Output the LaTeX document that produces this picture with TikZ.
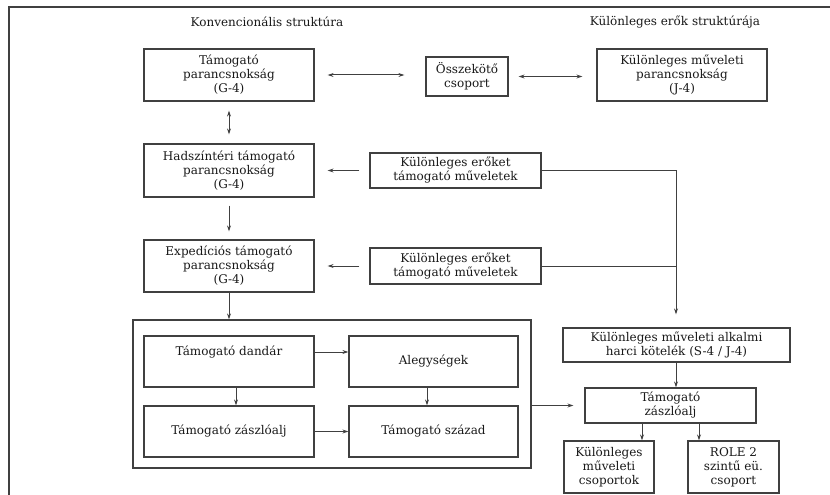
\documentclass[tikz,border=0pt]{standalone}
\usepackage{fontspec}
\setmainfont{DejaVu Serif}
\usetikzlibrary{arrows.meta}
\definecolor{ln}{HTML}{404040}
\tikzset{
  bx/.style={draw=ln, line width=1.2pt, align=center, inner sep=0pt, font=\fontsize{12}{14}\selectfont, text=black!90},
  tx/.style={align=center, inner sep=0pt, font=\fontsize{12}{14}\selectfont, text=black!90},
  arr/.style={draw=ln, line width=1pt, -{Stealth[length=6pt,width=4pt]}},
  darr/.style={draw=ln, line width=1pt, {Stealth[length=6pt,width=4pt]}-{Stealth[length=6pt,width=4pt]}},
  ln/.style={draw=ln, line width=1pt}
}
\begin{document}
\begin{tikzpicture}[x=1pt,y=-1pt]
\useasboundingbox (0,0) rectangle (830,495);
\fill[white] (0,0) rectangle (830,495);
% frame
\draw[ln, line width=1.6pt] (9,495) -- (9,7) -- (830,7);
% titles
\node[tx] (t1) at (267,22) {Konvencionális struktúra};
\node[tx] (t2) at (675,22) {Különleges erők struktúrája};
% boxes
\node[bx, minimum width=170pt, minimum height=52pt] (b1) at (229,75) {Támogató\\parancsnokság\\(G-4)};
\node[bx, minimum width=82pt, minimum height=39pt] (oss) at (467,76.5) {Összekötő\\csoport};
\node[bx, minimum width=170pt, minimum height=52pt] (j4) at (682,75) {Különleges műveleti\\parancsnokság\\(J-4)};
\node[bx, minimum width=170pt, minimum height=53pt] (b2) at (229,170.5) {Hadszíntéri támogató\\parancsnokság\\(G-4)};
\node[bx, minimum width=171pt, minimum height=35pt] (k1) at (455.5,170.5) {Különleges erőket\\támogató műveletek};
\node[bx, minimum width=170pt, minimum height=52pt] (b3) at (229,266) {Expedíciós támogató\\parancsnokság\\(G-4)};
\node[bx, minimum width=171pt, minimum height=36pt] (k2) at (455.5,266) {Különleges erőket\\támogató műveletek};
\node[bx, minimum width=398pt, minimum height=148pt] (cont) at (332,394) {};
\node[bx, minimum width=170pt, minimum height=51pt] (dandar) at (229,361.5) {};
\node[tx] (dandarT) at (229,352) {Támogató dandár};
\node[bx, minimum width=169pt, minimum height=51pt] (aleg) at (433.5,361.5) {Alegységek};
\node[bx, minimum width=170pt, minimum height=51pt] (zaszl) at (229,431.5) {Támogató zászlóalj};
\node[bx, minimum width=169pt, minimum height=51pt] (szazad) at (433.5,431.5) {Támogató század};
\node[bx, minimum width=227pt, minimum height=34pt] (kat) at (676.5,345) {Különleges műveleti alkalmi\\harci kötelék (S-4 / J-4)};
\node[bx, minimum width=171pt, minimum height=35pt] (tz) at (670.5,405.5) {Támogató\\zászlóalj};
\node[bx, minimum width=90pt, minimum height=52pt] (kmcs) at (609,467) {Különleges\\műveleti\\csoportok};
\node[bx, minimum width=91pt, minimum height=52pt] (role) at (733.5,467) {ROLE 2\\szintű eü.\\csoport};
\coordinate (c1) at (676,170.5);
\coordinate (c2) at (676,266);
% connectors
\draw[darr, shorten <=13pt, shorten >=21pt] (b1.east) -- (b1.east -| oss.west);
\draw[darr, shorten <=10pt, shorten >=14pt] (oss.east) -- (oss.east -| j4.west);
\draw[darr, shorten <=9pt, shorten >=9pt] (b1.south) -- (b2.north);
\draw[arr, shorten <=8pt, shorten >=8pt] (b2.south) -- (b3.north);
\draw[arr, shorten <=10pt, shorten >=13pt] (k1.west) -- (b2.east);
\draw[arr, shorten <=10pt, shorten >=13pt] (k2.west) -- (b3.east);
\draw[arr] (b3.south) -- (cont.north -| b3.south);
\draw[ln] (k1.east) -- (c1) -- (c2);
\draw[ln] (k2.east) -- (c2);
\draw[arr, shorten >=13pt] (c2) -- (kat.north -| c2);
\draw[arr] (kat.south -| c2) -- (tz.north -| c2);
\draw[arr, shorten >=11pt] (cont.east |- tz.west) -- (tz.west);
\draw[arr] (dandarT -| dandar.east) -- (dandarT -| aleg.west);
\draw[arr] (zaszl.east) -- (szazad.west);
\draw[arr] (236,387) coordinate (d1) (dandar.south -| d1) -- (zaszl.north -| d1);
\draw[arr] (427,387) coordinate (d2) (aleg.south -| d2) -- (szazad.north -| d2);
\draw[arr] (642,423) coordinate (d3) (tz.south -| d3) -- (kmcs.north -| d3);
\draw[arr] (699,423) coordinate (d4) (tz.south -| d4) -- (role.north -| d4);
\end{tikzpicture}
\end{document}
